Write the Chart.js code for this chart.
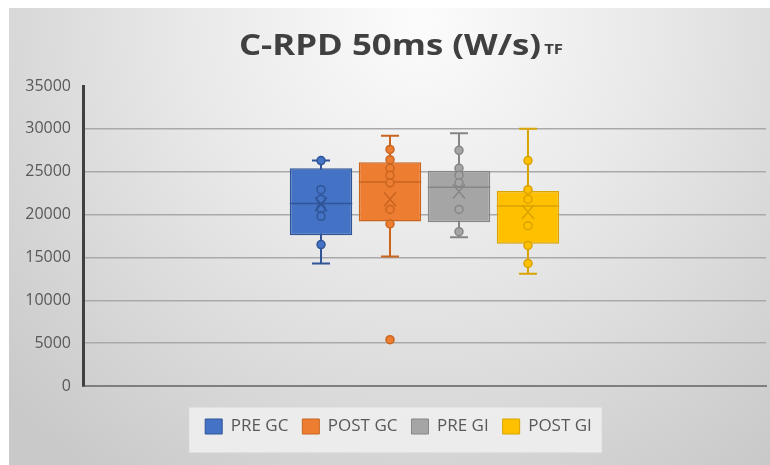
<!DOCTYPE html>
<html>
<head>
<meta charset="utf-8">
<script src="https://cdn.jsdelivr.net/npm/chart.js@4.4.1/dist/chart.umd.min.js"></script>
<style>
  html, body { margin: 0; padding: 0; background: #ffffff; }
  #wrap { width: 770px; height: 465px; position: relative; }
</style>
</head>
<body>
<div id="wrap"><canvas id="chart" width="770" height="465"></canvas></div>
<script>
// Series and statistics for the C-RPD 50 ms box plot
const categories = [''];
const seriesNames = ['PRE GC', 'POST GC', 'PRE GI', 'POST GI'];
const fillColors = ['#4472C4', '#ED7D31', '#A5A5A5', '#FFC000'];
const lineColors = ['#2F5597', '#C9651F', '#868686', '#D9A300'];

const quartile1 = [17600, 19200, 19100, 16600];
const quartile3 = [25400, 26100, 25100, 22750];
const medians = [21300, 23800, 23200, 21000];
const means = [21200, 21800, 22700, 20300];
const whiskerMin = [14300, 15100, 17350, 13100];
const whiskerMax = [26300, 29200, 29500, 30000];

const pointsPreGC = [26300, 22900, 21800, 20700, 19800, 16500];
const pointsPostGC = [27600, 26400, 25400, 24600, 23700, 20600, 18900, 5400];
const pointsPreGI = [27500, 25400, 24600, 23700, 20600, 18000];
const pointsPostGI = [26300, 22900, 21800, 18700, 16400, 14300];
const seriesPoints = [pointsPreGC, pointsPostGC, pointsPreGI, pointsPostGI];

const yTicks = [0, 5000, 10000, 15000, 20000, 25000, 30000, 35000];

const titleMain = 'C-RPD 50ms (W/s)';
const titleSub = 'TF';

// Panel background, legend panel and title
const panelPlugin = {
  id: 'panel',
  afterUpdate(chart) {
    // nudge the legend row a little to the right
    const lg = chart.legend;
    if (!lg) return;
    const dx = 11;
    lg.left += dx;
    lg.right += dx;
    (lg.legendHitBoxes || []).forEach(h => { h.left += dx; });
  },
  beforeDraw(chart) {
    const ctx = chart.ctx;
    ctx.save();
    ctx.fillStyle = '#ffffff';
    ctx.fillRect(0, 0, chart.width, chart.height);
    const g = ctx.createRadialGradient(420, 20, 10, 420, 20, 560);
    g.addColorStop(0, '#fbfbfb');
    g.addColorStop(0.4, '#e9e9e9');
    g.addColorStop(1, '#c9c9c9');
    ctx.fillStyle = g;
    ctx.fillRect(9, 8, chart.width - 9, chart.height - 8);

    // legend panel
    const lg = chart.legend;
    if (lg && lg.legendHitBoxes && lg.legendHitBoxes.length) {
      const hb = lg.legendHitBoxes;
      const left = hb[0].left - 16;
      const right = hb[hb.length - 1].left + hb[hb.length - 1].width + 10;
      const cy = hb[0].top + hb[0].height / 2;
      ctx.fillStyle = 'rgba(238,238,238,0.9)';
      ctx.fillRect(left, cy - 19, right - left, 45);
    }

    // title with subscript, drawn slightly wide
    const sx = 1.2;
    ctx.fillStyle = '#404040';
    ctx.textBaseline = 'alphabetic';
    ctx.font = 'bold 29px "Open Sans"';
    const wMain = ctx.measureText(titleMain).width * sx;
    ctx.font = 'bold 14px "Open Sans"';
    const wSub = ctx.measureText(titleSub).width * sx;
    const x0 = 401 - (wMain + wSub + 3) / 2;
    ctx.save();
    ctx.translate(x0, 55);
    ctx.scale(sx, 1);
    ctx.font = 'bold 29px "Open Sans"';
    ctx.fillText(titleMain, 0, 0);
    ctx.restore();
    ctx.save();
    ctx.translate(x0 + wMain + 3, 54);
    ctx.scale(sx, 1);
    ctx.font = 'bold 14px "Open Sans"';
    ctx.fillText(titleSub, 0, 0);
    ctx.restore();
    ctx.restore();
  }
};

// Whiskers, medians, means and data points drawn on each box
const boxPlugin = {
  id: 'boxDetails',
  beforeDatasetsDraw(chart) {
    const ctx = chart.ctx;
    const ys = chart.scales.y;
    ctx.save();
    chart.data.datasets.forEach((ds, i) => {
      const bar = chart.getDatasetMeta(i).data[0];
      if (!bar) return;
      const x = bar.x;
      const yMin = ys.getPixelForValue(whiskerMin[i]);
      const yMax = ys.getPixelForValue(whiskerMax[i]);
      ctx.strokeStyle = lineColors[i];
      ctx.lineWidth = 2;
      ctx.beginPath();
      ctx.moveTo(x, yMin); ctx.lineTo(x, yMax);
      ctx.moveTo(x - 9, yMin); ctx.lineTo(x + 9, yMin);
      ctx.moveTo(x - 9, yMax); ctx.lineTo(x + 9, yMax);
      ctx.stroke();
    });
    ctx.restore();
  },
  afterDatasetsDraw(chart) {
    const ctx = chart.ctx;
    const ys = chart.scales.y;
    ctx.save();
    chart.data.datasets.forEach((ds, i) => {
      const bar = chart.getDatasetMeta(i).data[0];
      if (!bar) return;
      const x = bar.x;
      const half = bar.width / 2;
      // median
      const yMed = ys.getPixelForValue(medians[i]);
      ctx.strokeStyle = lineColors[i];
      ctx.lineWidth = 1.5;
      ctx.beginPath();
      ctx.moveTo(x - half, yMed); ctx.lineTo(x + half, yMed);
      ctx.stroke();
      // points
      seriesPoints[i].forEach(v => {
        const y = ys.getPixelForValue(v);
        ctx.beginPath();
        ctx.arc(x, y, 4, 0, Math.PI * 2);
        ctx.fillStyle = fillColors[i];
        ctx.fill();
        ctx.lineWidth = 1.5;
        ctx.strokeStyle = lineColors[i];
        ctx.stroke();
      });
      // mean marker
      const yMean = ys.getPixelForValue(means[i]);
      ctx.lineWidth = 1.5;
      ctx.strokeStyle = lineColors[i];
      ctx.beginPath();
      ctx.moveTo(x - 6, yMean - 7); ctx.lineTo(x + 6, yMean + 7);
      ctx.moveTo(x + 6, yMean - 7); ctx.lineTo(x - 6, yMean + 7);
      ctx.stroke();
    });
    ctx.restore();
  }
};

const datasets = seriesNames.map((name, i) => ({
  label: name,
  data: [[quartile1[i], quartile3[i]]],
  backgroundColor: fillColors[i],
  borderColor: lineColors[i],
  borderWidth: 1.5,
  borderSkipped: false,
  categoryPercentage: 0.404,
  barPercentage: 0.905
}));

new Chart(document.getElementById('chart'), {
  type: 'bar',
  data: { labels: categories, datasets },
  options: {
    responsive: false,
    animation: false,
    layout: { padding: { left: 9, right: 4, top: 86, bottom: 20 } },
    plugins: {
      title: { display: false },
      tooltip: { enabled: false },
      legend: {
        position: 'bottom',
        labels: {
          boxWidth: 17,
          boxHeight: 15,
          padding: 14,
          color: '#595959',
          font: { family: '"Open Sans"', size: 17 },
          generateLabels(chart) {
            return chart.data.datasets.map((ds, i) => ({
              text: ds.label,
              fillStyle: fillColors[i],
              strokeStyle: lineColors[i],
              lineWidth: 1,
              fontColor: '#595959',
              datasetIndex: i,
              hidden: false
            }));
          }
        }
      }
    },
    scales: {
      x: {
        grid: { display: false },
        ticks: { display: false },
        afterFit(scale) { scale.height += 10; },
        border: { display: true, color: '#7f7f7f', width: 2 }
      },
      y: {
        min: 0,
        max: 35000,
        afterBuildTicks(scale) { scale.ticks = yTicks.map(v => ({ value: v })); },
        afterFit(scale) { scale.width = 74; },
        ticks: {
          color: '#595959',
          padding: 12,
          font: { family: '"Open Sans"', size: 16 },
          callback: v => String(v)
        },
        grid: {
          drawTicks: false,
          color: ctx => (ctx.tick && ctx.tick.value === 35000) ? 'rgba(0,0,0,0)' : '#a9a9a9',
          lineWidth: 1.5
        },
        border: { display: true, color: '#404040', width: 3 }
      }
    }
  },
  plugins: [panelPlugin, boxPlugin]
});
</script>
</body>
</html>
